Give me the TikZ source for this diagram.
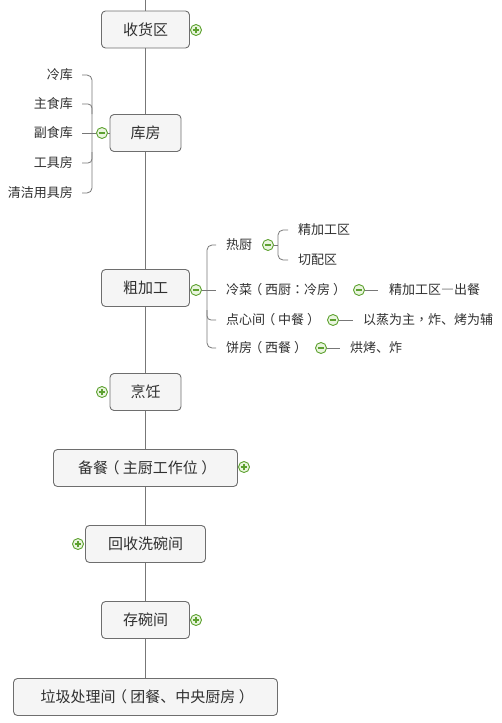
\documentclass[tikz,border=0pt]{standalone}
\usepackage{fontspec}
\setmainfont{Noto Sans CJK SC}
\newfontfamily\tcp{Noto Sans CJK TC}
\newcommand{\lp}{\kern-0.22em（\kern0.22em}
\newcommand{\rp}{\kern0.22em）\kern-0.22em}
\newcommand{\fdash}{{\addfontfeatures{CharacterWidth=Full}—}}
\definecolor{boxfill}{HTML}{F5F5F5}
\definecolor{boxdraw}{HTML}{6E6E6E}
\definecolor{linec}{HTML}{777777}
\definecolor{txt}{HTML}{303030}
\definecolor{icong}{HTML}{5DA130}
\definecolor{iconf}{HTML}{EAF5DF}
\begin{document}
\begin{tikzpicture}[x=1pt,y=-1pt,
 mainbox/.style={draw=boxdraw, fill=boxfill, rounded corners=4pt, line width=0.9pt, minimum height=37pt, inner sep=0pt, font=\fontsize{15}{15}\selectfont, text=txt},
 leaf/.style={inner sep=0pt, font=\fontsize{13}{13}\selectfont, text=txt},
 conn/.style={draw=linec, line width=0.8pt},
 iconbase/.style={circle, draw=icong, fill=iconf, minimum size=11pt, inner sep=0pt, line width=0.9pt},
 iconplus/.style={iconbase, path picture={\draw[icong, line width=1.2pt] ([xshift=-3.3pt]path picture bounding box.center) -- ([xshift=3.3pt]path picture bounding box.center) ([yshift=-3.3pt]path picture bounding box.center) -- ([yshift=3.3pt]path picture bounding box.center);}},
 iconminus/.style={iconbase, path picture={\draw[icong, line width=1.2pt] ([xshift=-3.3pt]path picture bounding box.center) -- ([xshift=3.3pt]path picture bounding box.center);}},
]
\useasboundingbox (0,0) rectangle (501,723);
\coordinate (top) at (145.5,0);
% main spine nodes
\node[mainbox, minimum width=88pt] (shouhuo) at (145.5,29.5) {收货区};
\node[mainbox, minimum width=71pt] (kufang) at (145.5,133) {库房};
\node[mainbox, minimum width=88pt] (cujia) at (145.5,288) {粗加工};
\node[mainbox, minimum width=71pt] (pengren) at (145.5,392) {烹饪};
\node[mainbox, minimum width=184pt] (beican) at (145.5,468) {备餐\lp 主厨工作位\rp};
\node[mainbox, minimum width=120pt] (huishou) at (145.5,544) {回收洗碗间};
\node[mainbox, minimum width=88pt] (cunwan) at (145.5,620) {存碗间};
\node[mainbox, minimum width=264pt] (laji) at (145.5,697) {垃圾处理间\lp 团餐、中央厨房\rp};
\draw[conn] (top) -- (shouhuo) (shouhuo) -- (kufang) (kufang) -- (cujia) (cujia) -- (pengren)
  (pengren) -- (beican) (beican) -- (huishou) (huishou) -- (cunwan) (cunwan) -- (laji);
% icons
\node[iconplus] (p1) at (196,30) {};
\node[iconminus] (m1) at (102,133) {};
\node[iconminus] (m2) at (196,290) {};
\node[iconplus] (p2) at (102,392) {};
\node[iconplus] (p3) at (244,467) {};
\node[iconplus] (p4) at (78,544) {};
\node[iconplus] (p5) at (196,620) {};
% left leaves
\node[leaf, anchor=east] (l1) at (73,75) {冷库};
\node[leaf, anchor=east] (l2) at (73,104) {主食库};
\node[leaf, anchor=east] (l3) at (73,133) {副食库};
\node[leaf, anchor=east] (l4) at (73,163) {工具房};
\node[leaf, anchor=east] (l5) at (73,193) {清洁用具房};
\draw[conn] (kufang) -- (m1);
\draw[conn, shorten >=9pt] (m1) -- (l3.east);
\draw[conn, rounded corners=5pt] ([xshift=9pt]l1.east) -| (92,133) |- ([xshift=9pt]l5.east);
\draw[conn, rounded corners=4pt] ([xshift=9pt]l2.east) -| (92,114);
\draw[conn, rounded corners=4pt] ([xshift=9pt]l4.east) -| (92,152);
% right leaves
\node[leaf, anchor=west] (r1) at (226,245) {热厨};
\node[leaf, anchor=west] (r2) at (226,290) {冷菜\lp 西厨{\tcp ：}冷房\rp};
\node[leaf, anchor=west] (r3) at (226,320) {点心间\lp 中餐\rp};
\node[leaf, anchor=west] (r4) at (226,348) {饼房\lp 西餐\rp};
\draw[conn] (cujia) -- (m2);
\draw[conn, shorten >=10pt] (m2) -- (r2.west);
\draw[conn, rounded corners=5pt] ([xshift=-10pt]r1.west) -| (207,290) |- ([xshift=-10pt]r4.west);
\draw[conn, rounded corners=4pt] ([xshift=-10pt]r3.west) -| (207,310);
% hot kitchen sub
\node[iconminus] (m3) at (268,245) {};
\coordinate (b3) at (278,245);
\node[leaf, anchor=west] (s1) at (298,230) {精加工区};
\node[leaf, anchor=west] (s2) at (298,260) {切配区};
\draw[conn] (m3) -- (b3);
\draw[conn, rounded corners=5pt] ([xshift=-10pt]s1.west) -| (b3) |- ([xshift=-10pt]s2.west);
% other subs
\node[iconminus] (m4) at (359,290) {};
\node[leaf, anchor=west] (t2) at (389,290) {精加工区\fdash 出餐};
\draw[conn, shorten >=11pt] (m4) -- (t2.west);
\node[iconminus] (m5) at (333,320) {};
\node[leaf, anchor=west] (t3) at (363,320) {以蒸为主{\tcp ，}炸、烤为辅};
\draw[conn, shorten >=10pt] (m5) -- (t3.west);
\node[iconminus] (m6) at (321,348) {};
\node[leaf, anchor=west] (t4) at (350,348) {烘烤、炸};
\draw[conn, shorten >=10pt] (m6) -- (t4.west);
\end{tikzpicture}
\end{document}
